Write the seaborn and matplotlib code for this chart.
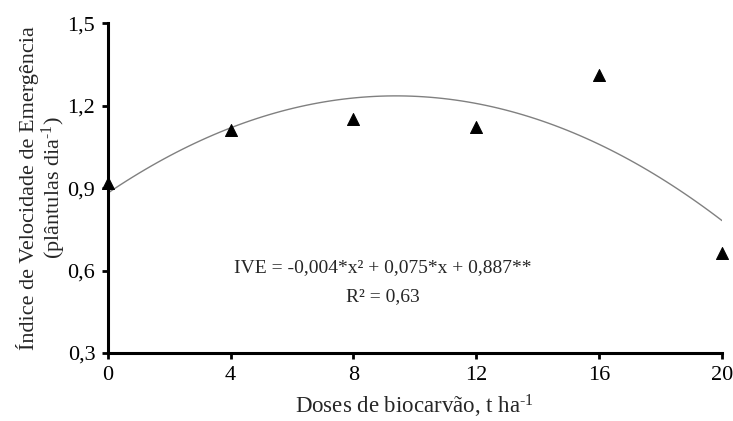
import numpy as np
import pandas as pd
import matplotlib
matplotlib.use('Agg')
import matplotlib.pyplot as plt
import seaborn as sns

# doses (t/ha) and emergence speed index
doses = [0, 4, 8, 12, 16, 20]
ive = [0.918, 1.111, 1.151, 1.122, 1.311, 0.664]
yticks = [0.3, 0.6, 0.9, 1.2, 1.5]
ytick_labels = ['0,3', '0,6', '0,9', '1,2', '1,5']

df = pd.DataFrame({'dose': doses, 'ive': ive})

sns.set_style('ticks')
plt.rcParams['font.family'] = ['Liberation Serif', 'DejaVu Serif']
plt.rcParams['mathtext.fontset'] = 'custom'
plt.rcParams['mathtext.rm'] = 'Liberation Serif'
plt.rcParams['mathtext.it'] = 'Liberation Serif'

fig = plt.figure(figsize=(7.33, 4.21), dpi=100)
ax = fig.add_axes([0.147, 0.1615, 0.838, 0.7835])

# quadratic trend line
sns.regplot(data=df, x='dose', y='ive', order=2, ci=None, scatter=False,
            truncate=True, ax=ax, line_kws={'color': '#808080', 'lw': 1})
sns.scatterplot(data=df, x='dose', y='ive', marker='^', color='black',
                s=75, edgecolor='black', ax=ax, zorder=5, clip_on=False)

ax.set_xlim(0, 20)
ax.set_ylim(0.3, 1.5)
ax.set_xticks(doses)
ax.set_yticks(yticks)
ax.set_yticklabels(ytick_labels)
ax.tick_params(labelsize=16, width=2, length=4, colors='black', pad=5)
for s in ['left', 'bottom']:
    ax.spines[s].set_linewidth(2.2)
    ax.spines[s].set_color('black')
sns.despine(ax=ax)

ax.set_xlabel('Doses de biocarvão, t ha$^{\\text{-}1}$', fontsize=16.5, labelpad=6)
ax.set_ylabel('Índice de Velocidade de Emergência\n(plântulas dia$^{\\text{-}1}$)',
              fontsize=16, linespacing=1.0, labelpad=0)

ax.text(8.96, 0.61, 'IVE = -0,004*x² + 0,075*x + 0,887**', ha='center',
        va='center', fontsize=14)
ax.text(8.96, 0.505, 'R² = 0,63', ha='center', va='center', fontsize=14)

fig.savefig('out.png', dpi=100)
